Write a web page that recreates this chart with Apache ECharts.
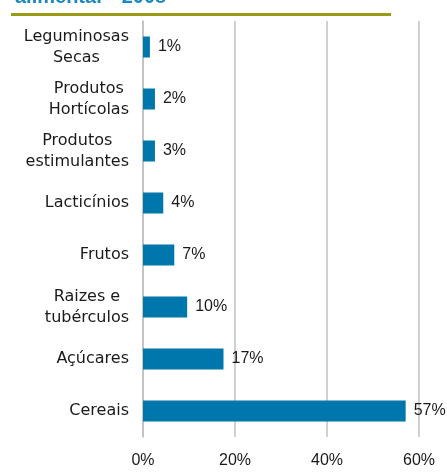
<!DOCTYPE html>
<html>
<head>
<meta charset="utf-8">
<script src="https://cdn.jsdelivr.net/npm/echarts@6/dist/echarts.min.js"></script>
<style>
  html, body { margin: 0; padding: 0; background: #fff; }
  #main { width: 447px; height: 472px; }
</style>
</head>
<body>
<div id="main"></div>
<script>
// categorias (de baixo para cima, como no eixo)
var categorias = ['Cereais', 'Açúcares', 'Raizes e\ntubérculos', 'Frutos', 'Lacticínios',
                  'Produtos\nestimulantes', 'Produtos\nHortícolas', 'Leguminosas\nSecas'];
// valores (%)
var valores = [57.1, 17.5, 9.6, 6.8, 4.4, 2.6, 2.6, 1.5];
// rótulos mostrados
var rotulos = ['57%', '17%', '10%', '7%', '4%', '3%', '2%', '1%'];
var ticksX = [0, 20, 40, 60];

var myChart = echarts.init(document.getElementById('main'));
var option = {
    animation: false,
    graphic: [
        {
            type: 'text',
            left: 15,
            top: -13,
            style: {
                text: 'alimentar - 2008',
                font: 'bold 20px "Liberation Sans", Arial, sans-serif',
                fill: '#1a86c2'
            }
        },
        {
            type: 'rect',
            left: 11,
            top: 13,
            shape: { width: 380, height: 3 },
            style: { fill: '#999a16' }
        }
    ],
    grid: {
        left: 143,
        right: 28,
        top: 21,
        bottom: 35
    },
    xAxis: {
        type: 'value',
        min: 0,
        max: 60,
        interval: 20,
        axisLine: { show: false },
        axisTick: { show: false },
        splitLine: { lineStyle: { color: '#c0c0c0', width: 1.5 } },
        axisLabel: {
            margin: 16,
            color: '#1a1a1a',
            fontSize: 16,
            fontFamily: '"Liberation Sans", Arial, sans-serif',
            formatter: function (v) { return ticksX.indexOf(v) >= 0 ? v + '%' : ''; }
        }
    },
    yAxis: {
        type: 'category',
        data: categorias,
        axisLine: { show: true, lineStyle: { color: '#c0c0c0', width: 1.5 } },
        axisTick: { show: false },
        axisLabel: {
            margin: 14,
            align: 'right',
            // linhas centradas entre si, bloco alinhado à direita
            formatter: function (v) {
                return v.split('\n').map(function (s) { return '{c|' + s + '}'; }).join('\n');
            },
            rich: {
                c: {
                    align: 'center',
                    color: '#1a1a1a',
                    fontSize: 16,
                    lineHeight: 21,
                    fontFamily: '"DejaVu Sans", sans-serif'
                }
            }
        }
    },
    series: [
        {
            type: 'bar',
            data: valores,
            barWidth: 21,
            itemStyle: { color: '#0077ac' },
            label: {
                show: true,
                position: 'right',
                distance: 8,
                color: '#1a1a1a',
                fontSize: 16,
                fontFamily: '"Liberation Sans", Arial, sans-serif',
                formatter: function (p) { return rotulos[p.dataIndex]; }
            }
        }
    ]
};
myChart.setOption(option);
</script>
</body>
</html>
